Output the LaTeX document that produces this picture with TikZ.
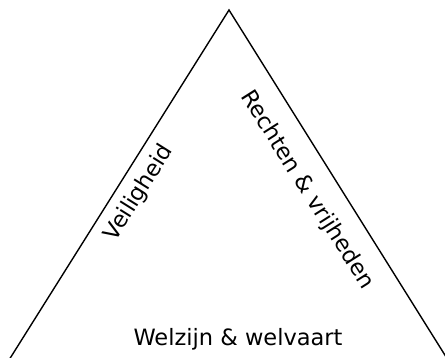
\documentclass[tikz,border=0pt]{standalone}
\usepackage{fontspec}
\setmainfont{DejaVu Sans}
\begin{document}
\begin{tikzpicture}[x=1pt,y=-1pt,
  side/.style={line width=1.4pt,line join=miter},
  lbl/.style={font=\fontsize{22.5}{26}\selectfont,inner sep=0pt}]
\useasboundingbox (0,0) rectangle (445,358);
\coordinate (bl) at (9,360);
\coordinate (apex) at (229,10);
\coordinate (br) at (448,360);
\draw[side] (bl) -- (apex) -- (br);
\node[lbl,rotate=57.9] (vei) at (139,193) {Veiligheid};
\node[lbl,rotate=-57.6] (rec) at (307,190) {Rechten \& vrijheden};
\node[lbl] (wel) at (238,339) {Welzijn \& welvaart};
\end{tikzpicture}
\end{document}
